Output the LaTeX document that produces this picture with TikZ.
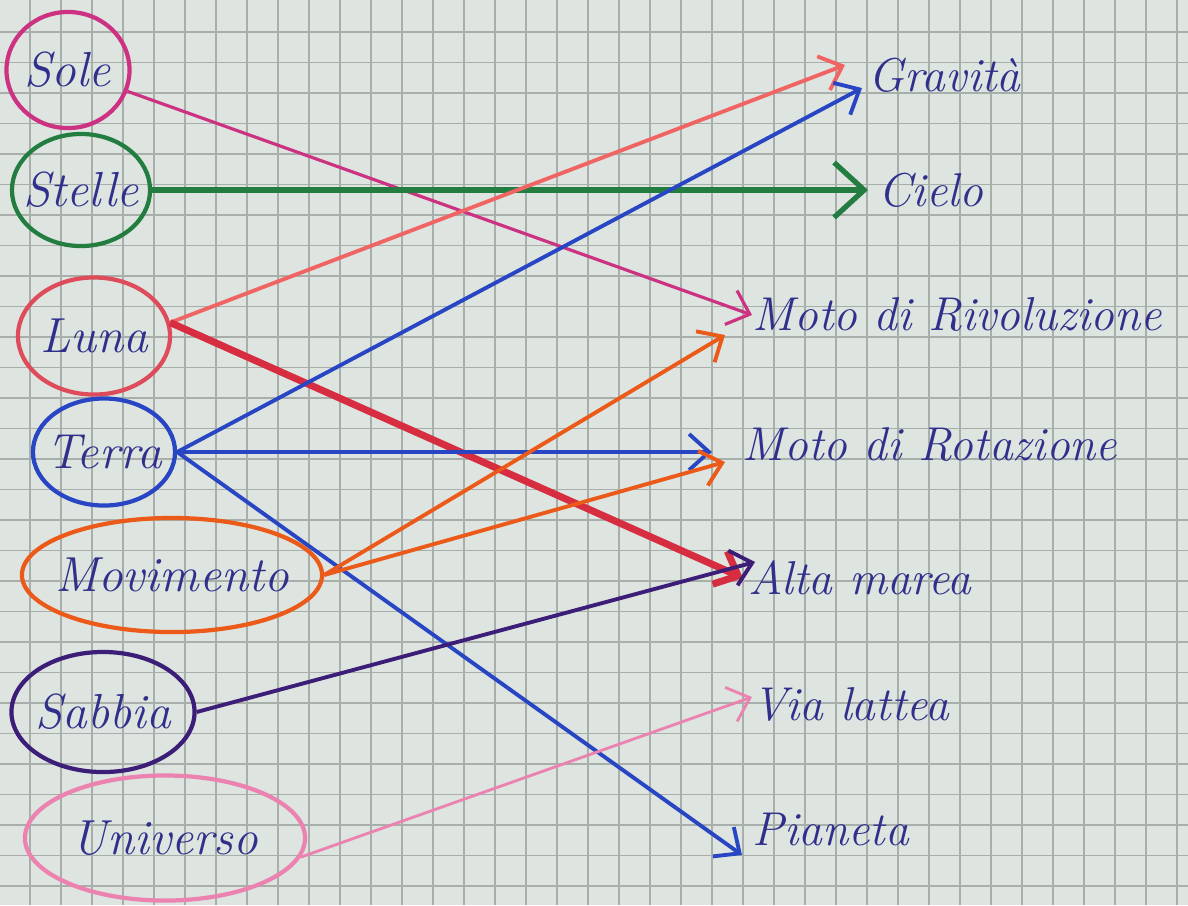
\documentclass[tikz,border=0pt]{standalone}
\usepackage{tikz}
\usepackage{xcolor}
\usetikzlibrary{shapes,arrows.meta,positioning,calc}
\definecolor{carta}{RGB}{222,228,223}
\definecolor{griglia}{RGB}{168,174,170}
\definecolor{inchiostro}{RGB}{48,48,140}
\definecolor{rosasole}{RGB}{205,50,130}
\definecolor{verde}{RGB}{35,125,65}
\definecolor{salmone}{RGB}{240,100,100}
\definecolor{rosso}{RGB}{215,45,65}
\definecolor{lunacol}{RGB}{222,75,90}
\definecolor{blu}{RGB}{40,70,195}
\definecolor{arancio}{RGB}{235,90,25}
\definecolor{viola}{RGB}{60,30,120}
\definecolor{rosa}{RGB}{235,130,175}

\begin{document}
\begin{tikzpicture}[x=0.01cm,y=-0.01cm,
  parola/.style={ellipse, draw, line width=1.2pt, inner xsep=-0.25cm, inner ysep=0pt, font=\fontsize{14}{16}\selectfont\itshape, text=inchiostro},
  voce/.style={anchor=west, inner sep=0pt, font=\fontsize{13.5}{16}\selectfont\itshape, text=inchiostro},
  freccia/.style={-{Straight Barb[length=2mm,width=3.6mm]}, line width=1.1pt}]
\useasboundingbox (0,0) rectangle (1188,905);
\fill[carta] (0,0) rectangle (1188,905);
\foreach \i in {0,...,37} \draw[griglia, line width=0.35pt] (30+31*\i,0) -- (30+31*\i,905);
\foreach \j in {0,...,29} \draw[griglia, line width=0.35pt] (0,32+30.5*\j) -- (1188,32+30.5*\j);

% parole a sinistra
\node[parola, draw=rosasole, minimum width=1.23cm, minimum height=1.16cm] (sole) at (68,70) {Sole};
\node[parola, draw=verde, minimum width=1.38cm, minimum height=1.12cm] (stelle) at (81,190) {Stelle};
\node[parola, draw=lunacol, minimum width=1.52cm, minimum height=1.17cm] (luna) at (94,336) {Luna};
\node[parola, draw=blu, minimum width=1.42cm, minimum height=1.07cm] (terra) at (104,452) {Terra};
\node[parola, draw=arancio, minimum width=3cm, minimum height=1.14cm] (movimento) at (172,575) {Movimento};
\node[parola, draw=viola, minimum width=1.83cm, minimum height=1.2cm] (sabbia) at (103,712) {Sabbia};
\node[parola, draw=rosa, minimum width=2.8cm, minimum height=1.25cm] (universo) at (165,838) {Universo};

% parole a destra
\node[voce] (gravita) at (868,75) {Gravità};
\node[voce] (cielo) at (878,190) {Cielo};
\node[voce] (rivoluzione) at (752,315) {Moto di Rivoluzione};
\node[voce] (rotazione) at (742,445) {Moto di Rotazione};
\node[voce] (marea) at (748,578) {Alta marea};
\node[voce] (lattea) at (752,705) {Via lattea};
\node[voce] (pianeta) at (752,830) {Pianeta};

% collegamenti
\draw[freccia, rosasole, line width=0.9pt] (sole) -- (rivoluzione.west);
\draw[freccia, verde, line width=1.5pt, -{Straight Barb[length=3mm,width=5.5mm]}] (stelle) -- ([xshift=-0.1cm]cielo.west);
\draw[freccia, salmone] (luna.10) -- ([xshift=-0.23cm,yshift=0.1cm]gravita.west);
\draw[freccia, rosso, line width=2pt] (luna.10) -- ([xshift=-0.05cm]marea.west);
\draw[freccia, blu] (terra.east) -- ([xshift=-0.06cm,yshift=-0.13cm]gravita.west);
\draw[freccia, blu] (terra.east) -- ([xshift=-0.3cm,yshift=-0.07cm]rotazione.west);
\draw[freccia, blu] (terra.east) -- ([xshift=-0.1cm,yshift=-0.25cm]pianeta.west);
\draw[freccia, arancio] (movimento.east) -- ([xshift=-0.27cm,yshift=-0.2cm]rivoluzione.west);
\draw[freccia, arancio] (movimento.east) -- ([xshift=-0.17cm,yshift=-0.17cm]rotazione.west);
\draw[freccia, viola] (sabbia.east) -- ([xshift=0.07cm,yshift=0.16cm]marea.west);
\draw[freccia, rosa, line width=0.8pt] (universo.-8) -- ([yshift=0.08cm]lattea.west);
\end{tikzpicture}
\end{document}
